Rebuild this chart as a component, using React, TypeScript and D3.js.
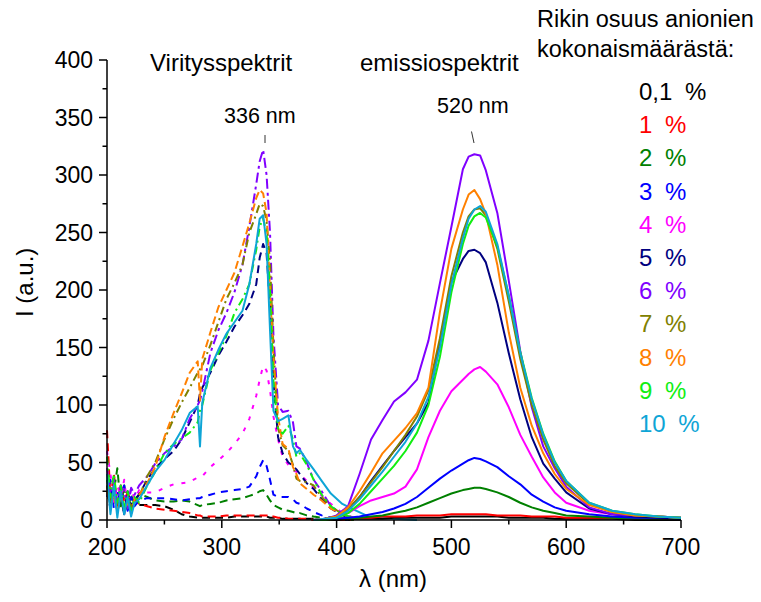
import React from "react";
import * as d3 from "d3";

const seriesLabels = ["0,1", "1", "2", "3", "4", "5", "6", "7", "8", "9", "10"];
const seriesColors = ["#000000", "#FF0000", "#008000", "#0000FF", "#FF00FF", "#000080", "#8000FF", "#808000", "#FF8000", "#11EE11", "#0EA5D6"];
const exDash = ["8,5", "8,5", "8,5", "7,6", "4,8", "8,5", "10,4,3,4", "8,4,2,4", "8,4", "8,4,2,4", null];

const xTicks = [200, 300, 400, 500, 600, 700];
const xMinor = [250, 350, 450, 550, 650];
const yTicks = [0, 50, 100, 150, 200, 250, 300, 350, 400];
const yMinor = [25, 75, 125, 175, 225, 275, 325, 375];

const exNm = [200, 203, 206, 209, 212, 215, 218, 221, 224, 228, 235, 242, 250, 258, 265, 272, 279, 281, 283, 290, 297, 304, 311, 318, 324, 330, 333, 336, 339, 342, 345, 349, 353, 358, 362, 365, 368, 374, 380, 387, 395, 405, 415, 430, 450, 470];

const ex01 = [30,12,22,8,18,6,15,10,14,13, 13,13,12,9,5,3,2,2,2,2, 2,2,3,3,3,3,3,3,3,2, 2,2,1,1,1,1,1,1,1,0, 0,0,0,null,null,null];
const ex1 = [78,20,40,10,30,15,25,8,18,14, 12,10,9,8,7,6,4,4,3,3, 3,4,4,4,4,4,4,4,4,3, 3,2,2,1,1,1,1,1,0,0, 0,0,0,null,null,null];
const ex2 = [35,15,25,45,12,30,10,22,14,23, 20,17,16,16,17,16,13,12,13,14, 15,17,18,19,21,23,25,26,22,17, 13,11,9,8,7,6,6,4,3,2, 1,1,0,null,null,null];
const ex3 = [20,35,10,25,15,30,8,20,12,17, 19,19,19,18,17,18,19,19,20,22, 24,25,26,27,29,38,46,52,47,35, 22,20,20,20,18,15,14,10,7,4, 2,1,0,null,null,null];
const ex4 = [60,40,15,30,20,35,10,28,18,26, 24,24,28,31,32,33,37,38,38,46, 52,58,66,75,88,108,122,134,130,113, 90,70,55,48,43,42,40,34,28,21, 14,6,2,null,null,null];
const ex5 = [25,10,30,15,20,5,25,12,18,22, 35,45,53,60,70,85,100,110,115,128, 143,155,168,178,188,205,228,240,232,185, 120,72,58,50,47,44,40,32,27,18, 10,4,1,null,null,null];
const ex6 = [45,20,35,15,30,25,10,28,22,30, 38,49,58,64,70,88,100,104,112,145, 165,180,198,222,255,292,312,322,300,250, 160,100,94,95,85,64,62,50,35,25, 12,5,1,null,null,null];
const ex7 = [30,15,25,10,20,8,18,12,15,20, 38,50,70,88,102,115,128,131,134,152, 172,192,206,222,250,266,275,273,260,225, 150,80,65,60,48,36,34,33,30,20, 12,5,1,null,null,null];
const ex8 = [25,12,20,8,22,10,15,6,18,22, 32,46,72,93,110,128,138,104,140,163, 185,200,215,238,258,280,287,284,267,200, 140,90,66,62,46,40,32,27,22,17, 10,5,2,null,null,null];
const ex9 = [55,20,40,15,30,12,25,8,20,15, 30,42,58,66,71,76,85,95,100,130, 145,160,180,192,205,235,255,262,250,200, 120,80,75,82,70,55,58,48,35,22, 12,5,2,null,null,null];
const ex10 = [40,5,30,2,25,5,20,3,15,18, 30,42,52,66,78,93,99,64,102,132, 148,162,172,182,205,240,262,265,240,165, 95,86,88,91,64,58,61,52,44,34, 23,14,9,2,1,0];

const emNm = [380, 390, 400, 410, 420, 430, 440, 450, 460, 470, 480, 490, 500, 510, 515, 520, 525, 530, 540, 550, 560, 570, 580, 590, 600, 620, 640, 660, 680, 700];

const em01 = [0,0,0,1,1,1,1,2,2,2, 2,2,3,3,3,3,3,3,3,2, 2,2,2,1,1,1,1,0,0,0];
const em1 = [0,0,1,1,2,2,3,3,3,4, 4,4,5,5,5,5,5,5,4,4, 4,3,3,3,2,2,2,1,1,1];
const em2 = [0,0,1,1,2,3,4,6,8,11, 15,19,23,26,27,28,28,27,24,20, 15,11,8,6,4,3,2,1,1,1];
const em3 = [0,1,1,2,3,5,7,10,14,20, 28,36,43,49,52,54,53,51,46,38, 31,22,16,11,8,5,3,2,2,1];
const em4 = [0,1,3,6,12,17,20,23,29,44, 72,95,112,122,127,131,133,129,118,98, 74,55,37,24,15,8,5,4,3,2];
const em5 = [0,1,3,9,20,34,47,60,72,84, 102,155,207,227,234,235,232,224,189,145, 105,72,49,36,24,10,5,3,2,1];
const em6 = [0,1,4,12,40,70,87,103,111,122, 156,206,255,305,316,318,317,304,267,208, 147,98,64,45,29,11,5,4,3,2];
const em7 = [0,1,3,9,20,33,46,60,74,90, 113,158,212,250,264,270,271,265,236,190, 140,100,70,47,32,14,7,4,3,2];
const em8 = [0,1,3,11,25,41,58,69,80,93, 115,181,236,270,283,287,279,266,222,163, 115,82,58,40,27,13,7,4,3,2];
const em9 = [0,0,2,6,14,25,36,47,60,76, 100,142,198,240,256,264,267,263,238,195, 146,106,75,51,34,15,8,5,3,2];
const em10 = [0,1,2,8,18,30,42,55,68,84, 107,150,205,245,262,270,273,268,240,195, 145,105,74,50,34,15,8,5,3,2];

const exSeries = [ex01, ex1, ex2, ex3, ex4, ex5, ex6, ex7, ex8, ex9, ex10];
const emSeries = [em01, em1, em2, em3, em4, em5, em6, em7, em8, em9, em10];

const FONT = "'Liberation Sans', Arial, sans-serif";

export default function App() {
  const x = d3.scaleLinear().domain([200, 700]).range([107, 681]);
  const y = d3.scaleLinear().domain([0, 400]).range([520, 60]);

  const makeLine = (nm: number[]) =>
    d3
      .line<number | null>()
      .defined((d) => d !== null)
      .x((_, i) => x(nm[i]))
      .y((d) => y(d as number));

  const exLine = makeLine(exNm);
  const emLine = makeLine(emNm);

  return (
    <svg width={761} height={602} style={{ position: "absolute", left: 0, top: 0, background: "#fff" }} fontFamily={FONT}>
      <rect x={0} y={0} width={761} height={602} fill="#fff" />
      {/* excitation spectra */}
      {exSeries.map((s, i) => (
        <path
          key={"ex" + i}
          d={exLine(s) || ""}
          fill="none"
          stroke={seriesColors[i]}
          strokeWidth={2}
          strokeDasharray={exDash[i] || undefined}
          strokeLinejoin="round"
        />
      ))}
      {/* emission spectra */}
      {emSeries.map((s, i) => (
        <path
          key={"em" + i}
          d={emLine(s) || ""}
          fill="none"
          stroke={seriesColors[i]}
          strokeWidth={2}
          strokeLinejoin="round"
        />
      ))}
      {/* axes */}
      <line x1={x(200)} x2={x(700)} y1={y(0)} y2={y(0)} stroke="#000" strokeWidth={1.5} />
      <line x1={x(200)} x2={x(200)} y1={y(0)} y2={y(400)} stroke="#000" strokeWidth={1.5} />
      {xTicks.map((t) => (
        <g key={"xt" + t}>
          <line x1={x(t)} x2={x(t)} y1={y(0)} y2={y(0) + 8} stroke="#000" strokeWidth={1.5} />
          <text x={x(t)} y={555} fontSize={23} textAnchor="middle" fill="#000">{t}</text>
        </g>
      ))}
      {xMinor.map((t) => (
        <line key={"xm" + t} x1={x(t)} x2={x(t)} y1={y(0)} y2={y(0) + 4.5} stroke="#000" strokeWidth={1.5} />
      ))}
      {yTicks.map((t) => (
        <g key={"yt" + t}>
          <line x1={x(200) - 8} x2={x(200)} y1={y(t)} y2={y(t)} stroke="#000" strokeWidth={1.5} />
          <text x={93} y={y(t) + 8} fontSize={23} textAnchor="end" fill="#000">{t}</text>
        </g>
      ))}
      {yMinor.map((t) => (
        <line key={"ym" + t} x1={x(200) - 4.5} x2={x(200)} y1={y(t)} y2={y(t)} stroke="#000" strokeWidth={1.5} />
      ))}
      <text x={393} y={587} fontSize={24} textAnchor="middle" fill="#000">λ (nm)</text>
      <text transform="translate(33,317) rotate(-90)" fontSize={24} fill="#000">I (a.u.)</text>

      {/* annotations */}
      <text x={150} y={71} fontSize={24} fill="#000">Viritysspektrit</text>
      <text x={360} y={71} fontSize={24} fill="#000">emissiospektrit</text>
      <text x={224} y={123} fontSize={21.5} fill="#000">336 nm</text>
      <line x1={265} x2={265} y1={135} y2={143} stroke="#333" strokeWidth={1} />
      <text x={437} y={113} fontSize={21.5} fill="#000">520 nm</text>
      <line x1={471.5} x2={474} y1={131.5} y2={143} stroke="#333" strokeWidth={1} />

      {/* legend */}
      <text x={537} y={27} fontSize={23.5} fill="#000">Rikin osuus anionien</text>
      <text x={537} y={57} fontSize={23.5} fill="#000">kokonaismäärästä:</text>
      {seriesLabels.map((l, i) => (
        <text key={"lg" + i} x={639} y={100 + i * 33.2} fontSize={24} fill={seriesColors[i]}>
          {l}
          <tspan dx={6}> %</tspan>
        </text>
      ))}
    </svg>
  );
}
